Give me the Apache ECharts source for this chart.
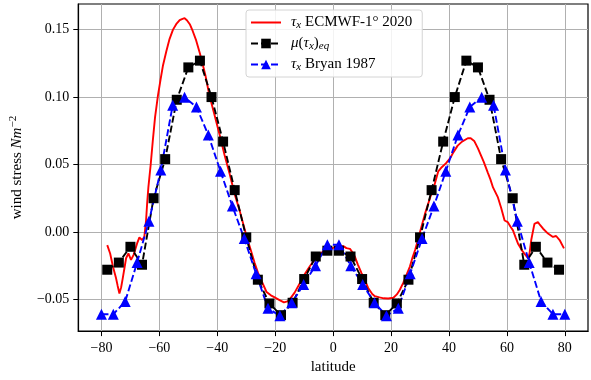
<!DOCTYPE html>
<html>
<head>
<meta charset="utf-8">
<script src="https://cdn.jsdelivr.net/npm/echarts@6/dist/echarts.min.js"></script>
<style>
  html, body { margin: 0; padding: 0; background: #ffffff; }
  #chart { width: 591px; height: 380px; }
</style>
</head>
<body>
<div id="chart"></div>
<script>
// Zonal wind stress profiles against latitude

// ECMWF 1-degree zonal mean (2020)
const ecmwfLat = [
  -78, -77, -76, -75, -74.4, -73.8, -73.2, -72.7, -72, -71.5, -70.7, -69.8, -68.9, -67.7, -66.9, -66, -65.2,
  -64.6, -64.2, -63.8, -63, -62.3, -61.5, -60.5, -59.6, -58.8, -57.6, -56.5, -55.3, -54.2, -53, -52, -51.3,
  -50.5, -49.5, -48.5, -47.3, -46.1, -45, -44, -42.7, -41, -39.2, -37.5, -35.7, -34, -32.3, -30, -28.5,
  -27.1, -26, -24.8, -23, -21.5, -20.2, -18.5, -17, -15.8, -15, -13.3, -11.5, -10, -8.1, -6.9, -4.6, -4,
  -2.5, -1.1, 0, 1, 2.3, 3.5, 4.6, 5.8, 6.9, 7.5, 8.5, 9.8, 11, 12.1, 13.5, 14.4, 16, 17.5, 19, 20.8, 22,
  23, 24.2, 25.3, 26.5, 27.4, 28.3, 29.2, 30, 31.7, 33.5, 35, 36.3, 37.5, 39, 40.5, 41.5, 43, 44.5, 46.5,
  47.5, 48.7, 50, 51, 52, 53.4, 54.3, 55.2, 56.9, 58, 59.2, 60.3, 61.2, 62.1, 63, 63.8, 65.5, 67.3, 67.8,
  68.4, 69.5, 70.7, 71.5, 72.5, 74.2, 75.9, 77, 78.2, 79.7
];
const ecmwfTau = [
  -0.0098, -0.016, -0.026, -0.034, -0.040, -0.0456, -0.041, -0.035, -0.026, -0.0195, -0.0159, -0.0207, -0.017, -0.0085, -0.004, -0.006, -0.0037,
  0.0085, 0.022, 0.033, 0.050, 0.067, 0.085, 0.101, 0.113, 0.123, 0.134, 0.143, 0.150, 0.154, 0.157, 0.158, 0.1585,
  0.157, 0.154, 0.149, 0.142, 0.133, 0.124, 0.115, 0.101, 0.087, 0.072, 0.057, 0.0427, 0.028, 0.016, -0.0024, -0.013,
  -0.023, -0.030, -0.036, -0.0445, -0.047, -0.0485, -0.0505, -0.0522, -0.0515, -0.050, -0.045, -0.038, -0.032, -0.0256, -0.022, -0.016, -0.015,
  -0.0135, -0.0125, -0.0118, -0.011, -0.0105, -0.0105, -0.012, -0.0125, -0.0159, -0.0183, -0.024, -0.0305, -0.036, -0.0415, -0.046, -0.0476, -0.0485, -0.0492, -0.0493, -0.0488, -0.0463,
  -0.043, -0.0378, -0.032, -0.0256, -0.019, -0.0134, -0.0065, 0.0, 0.0134, 0.0256, 0.035, 0.045, 0.048, 0.051, 0.055, 0.059, 0.064, 0.067, 0.0695,
  0.0695, 0.0675, 0.062, 0.057, 0.052, 0.044, 0.039, 0.033, 0.0256, 0.018, 0.0085, 0.0073, 0.004, 0.0012, -0.004, -0.0085, -0.0146, -0.0195, -0.016,
  -0.006, 0.006, 0.0073, 0.005, 0.0024, -0.0012, -0.0037, -0.003, -0.006, -0.0122
];

// Equatorially symmetric mean
const eqLat = [
  -78, -74, -70, -66, -62, -58, -54, -50, -46, -42, -38, -34, -30, -26, -22, -18, -14, -10, -6, -2,
  2, 6, 10, 14, 18, 22, 26, 30, 34, 38, 42, 46, 50, 54, 58, 62, 66, 70, 74, 78
];
const eqTau = [
  -0.028, -0.0227, -0.011, -0.0243, 0.025, 0.054, 0.098, 0.122, 0.127, 0.100, 0.067, 0.031, -0.004, -0.0354, -0.053, -0.0617, -0.0525, -0.0349, -0.0182, -0.0139,
  -0.0139, -0.0182, -0.0349, -0.0525, -0.0617, -0.053, -0.0354, -0.004, 0.031, 0.067, 0.100, 0.127, 0.122, 0.098, 0.054, 0.025, -0.0243, -0.011, -0.0227, -0.028
];

// Bryan (1987) profile
const bryanLat = [
  -80, -75.9, -71.8, -67.7, -63.6, -59.5, -55.4, -51.3, -47.2, -43.1, -38.9, -34.8, -30.7, -26.6, -22.5, -18.4, -14.3, -10.2, -6.1, -2,
  2, 6.1, 10.2, 14.3, 18.4, 22.5, 26.6, 30.7, 34.8, 38.9, 43.1, 47.2, 51.3, 55.4, 59.5, 63.6, 67.7, 71.8, 75.9, 80
];
const bryanTau = [
  -0.061, -0.061, -0.0515, -0.0227, 0.008, 0.046, 0.094, 0.0998, 0.0927, 0.0718, 0.045, 0.0192, -0.0049, -0.031, -0.0565, -0.0622, -0.0525, -0.039, -0.025, -0.0095,
  -0.0095, -0.025, -0.039, -0.0525, -0.0622, -0.0565, -0.031, -0.0049, 0.0192, 0.045, 0.0718, 0.0927, 0.0998, 0.094, 0.046, 0.008, -0.0227, -0.0515, -0.061, -0.061
];

const xTicks = [-80, -60, -40, -20, 0, 20, 40, 60, 80];
const yTicks = [-0.05, 0.00, 0.05, 0.10, 0.15];

const FONT = 'Liberation Serif';
const pairs = (xs, ys) => xs.map((x, i) => [x, ys[i]]);
const signed = s => s.replace('-', '\u2212');

const legendText = {
  ecmwf: '{lead|τ}{sub|x} ECMWF-1° 2020',
  eq: '{lead|μ}({it|τ}{sub|x}){sub|eq}',
  bryan: '{lead|τ}{sub|x} Bryan 1987'
};

const chart = echarts.init(document.getElementById('chart'), null, { renderer: 'canvas' });

chart.setOption({
  animation: false,
  backgroundColor: '#ffffff',
  grid: {
    left: 78, right: 3, top: 4, bottom: 45,
    show: true, borderColor: '#000000', borderWidth: 1.2, backgroundColor: 'transparent'
  },
  legend: {
    orient: 'vertical',
    left: 246, top: 10,
    itemWidth: 30, itemHeight: 12, itemGap: 4,
    padding: [4, 10, 4, 4],
    backgroundColor: 'rgba(255,255,255,0.85)',
    borderColor: '#d4d4d4', borderWidth: 1, borderRadius: 3,
    data: [
      // plain line sample for the ECMWF curve (no marker)
      { name: 'ecmwf', itemStyle: { opacity: 0 } },
      { name: 'eq' },
      { name: 'bryan' }
    ],
    formatter: name => legendText[name],
    textStyle: {
      fontFamily: FONT, fontSize: 15, color: '#000', lineHeight: 17,
      rich: {
        lead: { fontFamily: FONT, fontSize: 15, fontStyle: 'italic', lineHeight: 17, padding: [0, 0, 0, 5] },
        it: { fontFamily: FONT, fontSize: 15, fontStyle: 'italic', lineHeight: 17 },
        sub: { fontFamily: FONT, fontSize: 11, fontStyle: 'italic', lineHeight: 10, verticalAlign: 'bottom' }
      }
    }
  },
  xAxis: {
    type: 'value', min: -88, max: 88, splitNumber: 9,
    name: 'latitude', nameLocation: 'middle', nameGap: 27,
    nameTextStyle: { fontFamily: FONT, fontSize: 15, color: '#000' },
    axisLine: { show: true, onZero: false, lineStyle: { color: '#000', width: 1.2 } },
    axisTick: { show: true, length: 5, customValues: xTicks, lineStyle: { color: '#000', width: 1 } },
    axisLabel: {
      customValues: xTicks, margin: 10,
      fontFamily: FONT, fontSize: 14, color: '#000',
      formatter: v => signed(String(v))
    },
    splitLine: { show: true, lineStyle: { color: '#b0b0b0', width: 1 } }
  },
  yAxis: {
    type: 'value', min: -0.0735, max: 0.169, splitNumber: 5,
    name: 'wind stress {it|Nm}{sup|−2}', nameLocation: 'middle', nameRotate: 90, nameGap: 41,
    nameTextStyle: {
      fontFamily: FONT, fontSize: 15, color: '#000', lineHeight: 18,
      rich: {
        it: { fontFamily: FONT, fontSize: 15, fontStyle: 'italic', lineHeight: 18 },
        sup: { fontFamily: FONT, fontSize: 11, lineHeight: 10, verticalAlign: 'top' }
      }
    },
    axisLine: { show: true, onZero: false, lineStyle: { color: '#000', width: 1.2 } },
    axisTick: { show: true, length: 5, customValues: yTicks, lineStyle: { color: '#000', width: 1 } },
    axisLabel: {
      customValues: yTicks, margin: 9,
      fontFamily: FONT, fontSize: 14, color: '#000',
      formatter: v => signed(v.toFixed(2))
    },
    splitLine: { show: true, lineStyle: { color: '#b0b0b0', width: 1 } }
  },
  series: [
    {
      name: 'ecmwf', type: 'line', data: pairs(ecmwfLat, ecmwfTau),
      symbol: 'none', showSymbol: false,
      lineStyle: { color: '#ff0000', width: 1.9 },
      itemStyle: { color: '#ff0000' }
    },
    {
      name: 'eq', type: 'line', data: pairs(eqLat, eqTau),
      symbol: 'rect', symbolSize: 10,
      lineStyle: { color: '#000000', width: 1.9, type: [7, 3] },
      itemStyle: { color: '#000000' }
    },
    {
      name: 'bryan', type: 'line', data: pairs(bryanLat, bryanTau),
      symbol: 'triangle', symbolSize: 11,
      lineStyle: { color: '#0000ff', width: 1.9, type: [7, 3] },
      itemStyle: { color: '#0000ff' }
    }
  ]
});
</script>
</body>
</html>
